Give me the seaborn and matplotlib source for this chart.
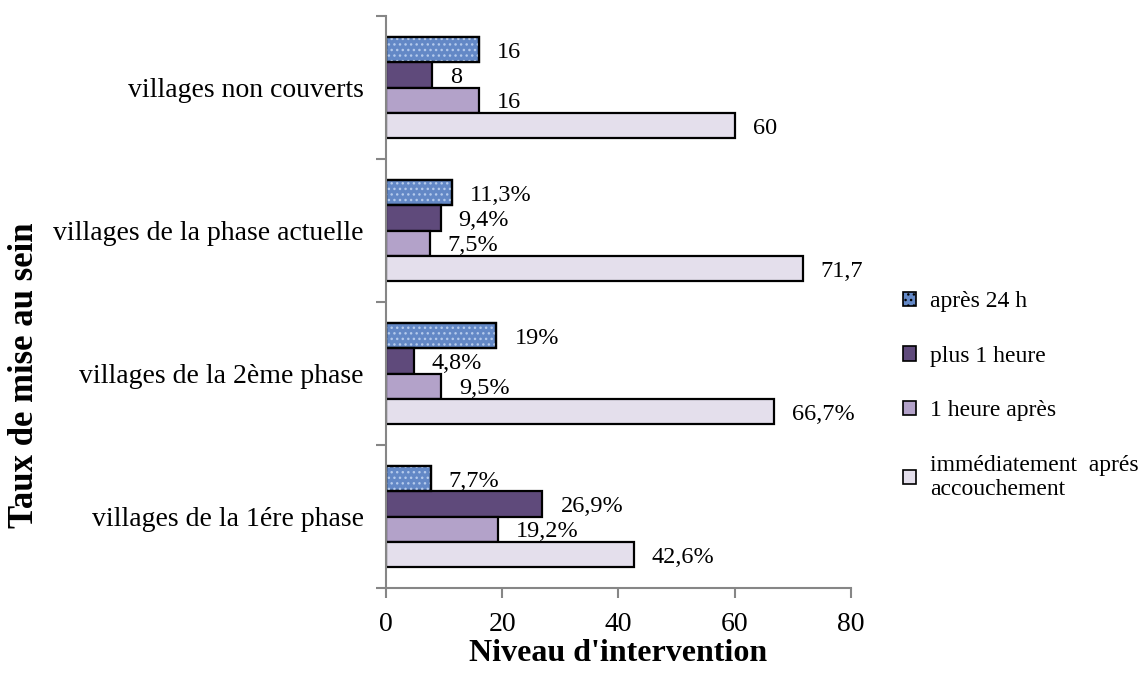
import matplotlib
matplotlib.use("Agg")
import matplotlib.pyplot as plt
from matplotlib.patches import Patch, Rectangle
import numpy as np
import pandas as pd
import seaborn as sns

# Categories (top to bottom) and timing groups
villages = [
    "villages non couverts",
    "villages de la phase actuelle",
    "villages de la 2ème phase",
    "villages de la 1ére phase",
]
moments = [
    "après 24 h",
    "plus 1 heure",
    "1 heure après",
    "immédiatement  aprés\naccouchement",
]

# Values per timing group, one entry per village category
apres_24h = [16, 11.3, 19, 7.7]
plus_1h = [8, 9.4, 4.8, 26.9]
une_heure_apres = [16, 7.5, 9.5, 19.2]
immediatement = [60, 71.7, 66.7, 42.6]

# Data labels as printed next to each bar
labels_apres_24h = ["16", "11,3%", "19%", "7,7%"]
labels_plus_1h = ["8", "9,4%", "4,8%", "26,9%"]
labels_une_heure = ["16", "7,5%", "9,5%", "19,2%"]
labels_immediat = ["60", "71,7", "66,7%", "42,6%"]

x_ticks = [0, 20, 40, 60, 80]

series = [apres_24h, plus_1h, une_heure_apres, immediatement]
series_labels = [labels_apres_24h, labels_plus_1h, labels_une_heure, labels_immediat]

df = pd.DataFrame(
    [
        {"village": v, "moment": m, "valeur": vals[i]}
        for m, vals in zip(moments, series)
        for i, v in enumerate(villages)
    ]
)

colors = ["#6388c6", "#5f4a7b", "#b3a2c9", "#e4dfec"]
palette = dict(zip(moments, colors))

sns.set_style("white")
plt.rcParams["font.family"] = ["Liberation Serif", "DejaVu Serif"]
plt.rcParams["text.color"] = "black"
plt.rcParams["axes.labelcolor"] = "black"
plt.rcParams["xtick.color"] = "black"
plt.rcParams["ytick.color"] = "black"
plt.rcParams["hatch.linewidth"] = 1.0

fig = plt.figure(figsize=(11.43, 6.79), dpi=100)
ax = fig.add_axes([0.3377, 0.134, 0.4068, 0.8424])

sns.barplot(
    data=df, y="village", x="valeur", hue="moment",
    order=villages, hue_order=moments, palette=palette,
    orient="h", width=0.71, gap=0, edgecolor="black", linewidth=1.6,
    legend=False, ax=ax, saturation=1,
)

# Mottled texture on the "après 24 h" bars
for p in ax.containers[0]:
    x0, y0 = p.get_xy()
    w, h = p.get_width(), p.get_height()
    ax.add_patch(Rectangle((x0, y0), w, h, facecolor="none",
                           edgecolor="#b4caec", hatch="...", lw=0, zorder=p.get_zorder() + 0.1))
    ax.add_patch(Rectangle((x0, y0), w, h, facecolor="none",
                           edgecolor="black", lw=1.6, zorder=p.get_zorder() + 0.2))

# Value labels at the end of each bar
for cont, labs in zip(ax.containers, series_labels):
    for p, lab in zip(cont, labs):
        ax.annotate(
            lab, xy=(p.get_x() + p.get_width(), p.get_y() + p.get_height() / 2),
            xytext=(13, -2), textcoords="offset points",
            ha="left", va="center", fontsize=17.5, color="black",
        )

ax.set_xlim(0, 80)
ax.set_ylim(3.5, -0.5)
ax.set_xticks(x_ticks)
ax.set_xticklabels([str(t) for t in x_ticks], fontsize=20)
ax.set_yticks(range(len(villages)))
ax.set_yticklabels(villages, fontsize=20)
ax.set_yticks(np.arange(-0.5, len(villages), 1.0), minor=True)

spine_color = "#868686"
for s in ["top", "right"]:
    ax.spines[s].set_visible(False)
for s in ["left", "bottom"]:
    ax.spines[s].set_color(spine_color)
    ax.spines[s].set_linewidth(1.5)

ax.tick_params(axis="y", which="major", length=0, pad=16)
ax.tick_params(axis="y", which="minor", length=7, width=1.5, color=spine_color, direction="out", left=True)
ax.tick_params(axis="x", which="major", length=7, width=1.5, color=spine_color, direction="out", bottom=True, pad=10)

ax.set_xlabel("Niveau d'intervention", fontsize=23, fontweight="bold", labelpad=2)
ax.set_ylabel("Taux de mise au sein", fontsize=25, fontweight="bold")
ax.yaxis.set_label_coords(-0.741, 0.372)

handles = [
    Patch(facecolor=c, edgecolor="black", linewidth=1.2) for c in colors
]
handles[0].set_hatch("...")
fig.legend(
    handles, moments, loc="upper left", bbox_to_anchor=(0.7816, 0.585),
    frameon=False, fontsize=17, handlelength=0.55, handleheight=0.55,
    handletextpad=0.6, labelspacing=1.42, borderaxespad=0,
)

fig.savefig("out.png", dpi=100)
